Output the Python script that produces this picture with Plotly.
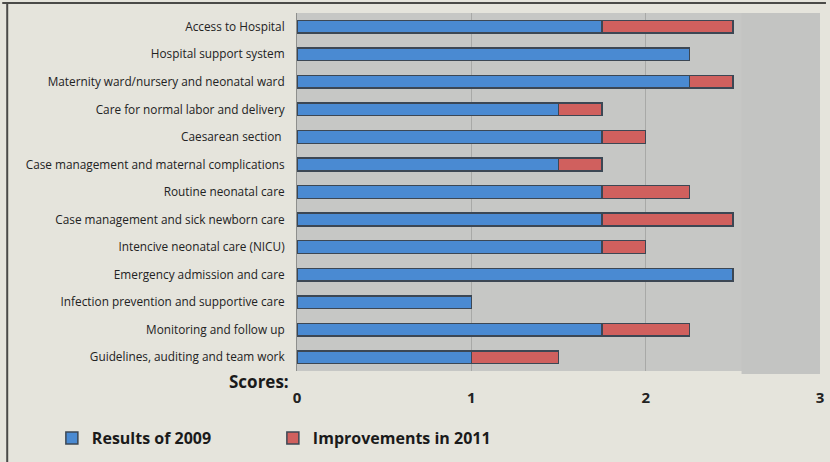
import plotly.graph_objects as go

categories = [
    "Access to Hospital",
    "Hospital support system",
    "Maternity ward/nursery and neonatal ward",
    "Care for normal labor and delivery",
    "Caesarean section ",
    "Case management and maternal complications",
    "Routine neonatal care",
    "Case management and sick newborn care",
    "Intencive neonatal care (NICU)",
    "Emergency admission and care",
    "Infection prevention and supportive care",
    "Monitoring and follow up",
    "Guidelines, auditing and team work",
]
results_2009 = [1.75, 2.25, 2.25, 1.5, 1.75, 1.5, 1.75, 1.75, 1.75, 2.5, 1.0, 1.75, 1.0]
improvements_2011 = [0.75, 0, 0.25, 0.25, 0.25, 0.25, 0.5, 0.75, 0.25, 0, 0, 0.5, 0.5]
x_ticks = [0, 1, 2, 3]

BG = "#e5e4dc"
PLOT_BG = "#c6c7c5"
BLUE = "#4a8ad2"
RED = "#d0605e"
EDGE = "#3c4754"

fig = go.Figure()
fig.add_trace(go.Bar(
    y=categories, x=results_2009, orientation="h", name="Results of 2009",
    marker=dict(color=BLUE, line=dict(color=EDGE, width=1.5)), width=0.46,
))
fig.add_trace(go.Bar(
    y=categories, x=improvements_2011, orientation="h", name="Improvements in 2011",
    marker=dict(color=RED, line=dict(color=EDGE, width=1.5)), width=0.46,
))

# plot area in pixels: x 297..824, y 13..371
L, R, T, B = 297, 824, 13, 371
W, H = 830, 462

def px(xp):
    return (xp - L) / (R - L)

def py(yp):
    return (B - yp) / (B - T)

fig.update_layout(
    width=W, height=H,
    barmode="stack",
    paper_bgcolor=BG,
    plot_bgcolor=PLOT_BG,
    margin=dict(l=L, r=W - R, t=T, b=H - B, pad=0),
    font=dict(family="Open Sans", color="#222222"),
    xaxis=dict(
        range=[0, 3], tickvals=x_ticks, ticktext=[str(v) for v in x_ticks],
        showgrid=True, gridcolor="#a8a9a7", gridwidth=1, zeroline=False,
        ticks="outside", ticklen=13, tickcolor=BG,
        tickfont=dict(family="Open Sans", size=15, color="#222222", weight="bold"),
        fixedrange=True,
    ),
    yaxis=dict(
        autorange="reversed", showgrid=False, zeroline=False,
        ticks="outside", ticklen=9, tickcolor=BG,
        tickfont=dict(family="Open Sans", size=11.8, color="#222222"),
        showline=True, linecolor="#8e8f8d", linewidth=1,
    ),
    showlegend=True,
    legend=dict(
        orientation="h", x=px(50), y=py(438), yanchor="middle", xanchor="left",
        bgcolor="rgba(0,0,0,0)", entrywidth=176, entrywidthmode="pixels",
        font=dict(family="Open Sans", size=16, color="#1a1a1a", weight="bold"),
        itemclick=False, itemdoubleclick=False, traceorder="normal",
    ),
    annotations=[dict(
        text="<b>Scores:</b>", xref="paper", yref="paper",
        x=px(291), y=py(381), xanchor="right", yanchor="middle", showarrow=False,
        font=dict(family="Open Sans", size=17, color="#1a1a1a"),
    )],
    shapes=[
        dict(type="rect", xref="x", yref="paper", x0=2.55, x1=3, y0=py(374), y1=1,
             fillcolor="#c3c4c2", line=dict(width=0), layer="below"),
        dict(type="line", xref="paper", yref="paper", x0=px(0), x1=px(W), y0=py(3), y1=py(3),
             line=dict(color="#4a4a48", width=2)),
        dict(type="line", xref="paper", yref="paper", x0=px(5), x1=px(5), y0=py(3), y1=py(H),
             line=dict(color="#4a4a48", width=2)),
    ],
)

fig.write_html("out.html")
